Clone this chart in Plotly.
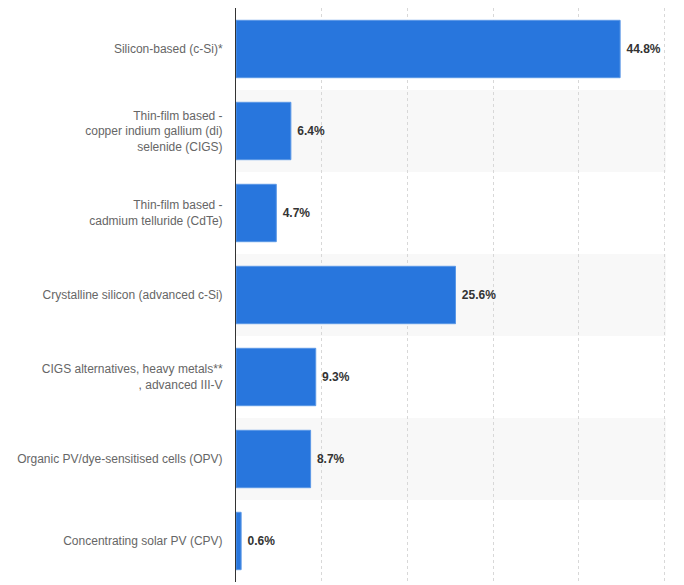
import plotly.graph_objects as go

categories = [
    "Silicon-based (c-Si)*",
    "Thin-film based -<br>copper indium gallium (di)<br>selenide (CIGS)",
    "Thin-film based -<br>cadmium telluride (CdTe)",
    "Crystalline silicon (advanced c-Si)",
    "CIGS alternatives, heavy metals**<br>, advanced III-V",
    "Organic PV/dye-sensitised cells (OPV)",
    "Concentrating solar PV (CPV)",
]
values = [44.8, 6.4, 4.7, 25.6, 9.3, 8.7, 0.6]
value_labels = [f"{v}%" for v in values]

FONT = "Liberation Sans Narrow, Liberation Sans, Arial, sans-serif"

fig = go.Figure(
    go.Bar(
        x=values,
        y=categories,
        orientation="h",
        marker=dict(color="#2876DD", line=dict(color="#5B98E6", width=1)),
        text=value_labels,
        texttemplate=" %{text}",
        textposition="outside",
        textfont=dict(family=FONT, size=12, color="#333333", weight="bold"),
        cliponaxis=False,
        width=0.7,
    )
)

shapes = []
for i in range(len(categories)):
    if i % 2 == 1:
        shapes.append(dict(type="rect", xref="paper", yref="y", x0=0, x1=1,
                           y0=i - 0.5, y1=i + 0.5, fillcolor="#F8F8F8",
                           line=dict(width=0), layer="below"))

fig.update_layout(
    width=684, height=585,
    margin=dict(l=228, r=26, t=0, b=11),
    paper_bgcolor="white", plot_bgcolor="white",
    shapes=shapes,
    showlegend=False,
    font=dict(family=FONT, size=12, color="#666666"),
)
fig.update_xaxes(range=[0, 50.15], dtick=10, showticklabels=False, showgrid=True,
                 gridcolor="#D8D8D8", griddash="dot", gridwidth=1, zeroline=False,
                 showline=False, automargin=False)
fig.update_yaxes(autorange="reversed", showline=True, linecolor="#333333", linewidth=1,
                 ticks="", ticklabelstandoff=10, showgrid=False, automargin=False,
                 tickfont=dict(family=FONT, size=12, color="#666666"))

fig.write_html("out.html")
